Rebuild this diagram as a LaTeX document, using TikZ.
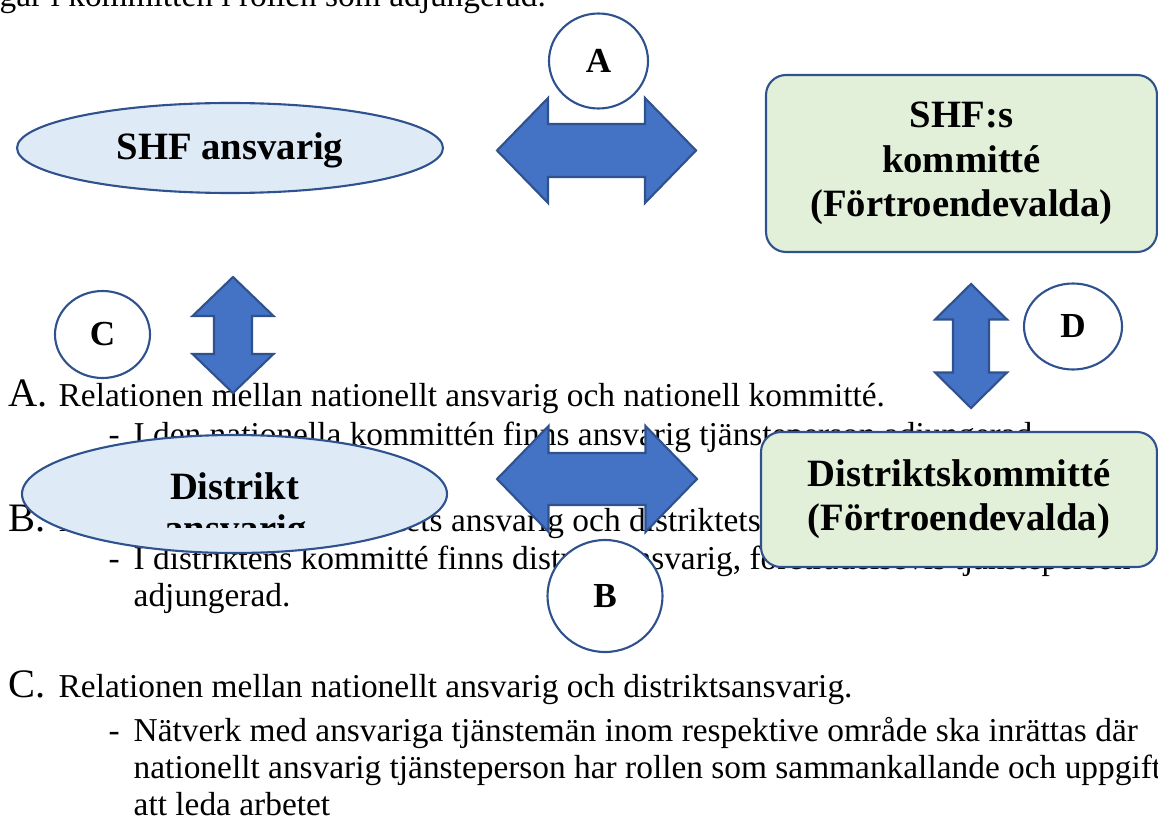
\documentclass[tikz,border=0pt]{standalone}
\usepackage{fontspec}
\setmainfont{Liberation Serif}
\usetikzlibrary{shapes.geometric}

\definecolor{shfblue}{HTML}{4472C4}
\definecolor{shfline}{HTML}{2F528F}
\definecolor{shflight}{HTML}{DEEBF7}
\definecolor{shfgreen}{HTML}{E2F0D9}

\tikzset{
  txt/.style={anchor=base west, inner sep=0pt, font=\fontsize{9.5}{11}\selectfont},
  bigletter/.style={anchor=base west, inner sep=0pt, font=\fontsize{11.5}{13}\selectfont},
  oval/.style={ellipse, draw=shfline, fill=shflight, line width=0.6pt, inner sep=0pt},
  ovaltext/.style={anchor=base, inner sep=0pt, font=\bfseries\fontsize{11}{13}\selectfont},
  box/.style={rectangle, rounded corners=0.2cm, draw=shfline, fill=shfgreen, line width=0.6pt,
    inner sep=0pt, align=center, font=\bfseries\fontsize{11}{12.6}\selectfont},
  tag/.style={ellipse, draw=shfline, fill=white, line width=0.6pt, inner sep=0pt,
    font=\bfseries\fontsize{10}{12}\selectfont},
  bigarrow/.style={draw=shfline, fill=shfblue, line width=0.6pt, line join=miter}
}

\begin{document}
\begin{tikzpicture}
\useasboundingbox (0,0) rectangle (11.58,-8.20);

% text behind the shapes
\node (l0) at (-0.01,-0.07) [txt] {gar i kommittén i rollen som adjungerad.};

\node (la) at (0.08,-4.06) [bigletter] {A.};
\node (lat) at (0.58,-4.06) [txt] {Relationen mellan nationellt ansvarig och nationell kommitté.};
\node (lad) at (1.08,-4.45) [txt] {-};
\node (las) at (1.33,-4.45) [txt] {I den nationella kommittén finns ansvarig tjänsteperson adjungerad.};

\node (lb) at (0.08,-5.31) [bigletter] {B.};
\node (lbt) at (0.58,-5.31) [txt] {Relationen mellan distriktets ansvarig och distriktets kommitté.};
\node (lbd) at (1.08,-5.69) [txt] {-};
\node (lbs) at (1.33,-5.69) [txt] {I distriktens kommitté finns distriktsansvarig, företrädelsevis tjänsteperson};
\node (lbs2) at (1.33,-6.06) [txt] {adjungerad.};

\node (lc) at (0.08,-6.97) [bigletter] {C.};
\node (lct) at (0.58,-6.97) [txt] {Relationen mellan nationellt ansvarig och distriktsansvarig.};
\node (lcd) at (1.08,-7.41) [txt] {-};
\node (lcs) at (1.33,-7.41) [txt] {Nätverk med ansvariga tjänstemän inom respektive område ska inrättas där};
\node (lcs2) at (1.33,-7.78) [txt] {nationellt ansvarig tjänsteperson har rollen som sammankallande och uppgift};
\node (lcs3) at (1.33,-8.15) [txt] {att leda arbetet};

% top row
\node (shf) at (2.30,-1.48) [oval, minimum width=4.26cm, minimum height=0.90cm] {};
\node (shftext) at (2.30,-1.60) [ovaltext] {SHF ansvarig};
\node (komm) at (9.615,-1.635) [box, minimum width=3.91cm, minimum height=1.77cm] {SHF:s\\kommitté\\(Förtroendevalda)};

\begin{scope}[shift={(5.965,-1.505)}]
\draw[bigarrow] (-0.995,0) -- (-0.485,0.525) -- (-0.485,0.265) -- (0.485,0.265) -- (0.485,0.525)
  -- (0.995,0) -- (0.485,-0.525) -- (0.485,-0.265) -- (-0.485,-0.265) -- (-0.485,-0.525) -- cycle;
\end{scope}
\node (a) at (5.985,-0.61) [tag, minimum width=0.99cm, minimum height=0.95cm] {A};

% vertical arrows
\begin{scope}[shift={(2.33,-3.35)}]
\draw[bigarrow] (0,0.58) -- (0.405,0.19) -- (0.19,0.19) -- (0.19,-0.19) -- (0.405,-0.19)
  -- (0,-0.58) -- (-0.405,-0.19) -- (-0.19,-0.19) -- (-0.19,0.19) -- (-0.405,0.19) -- cycle;
\end{scope}
\node (c) at (1.025,-3.345) [tag, minimum width=0.95cm, minimum height=0.87cm] {C};

\begin{scope}[shift={(9.71,-3.46)}]
\draw[bigarrow] (0,0.62) -- (0.36,0.265) -- (0.18,0.265) -- (0.18,-0.265) -- (0.36,-0.265)
  -- (0,-0.62) -- (-0.36,-0.265) -- (-0.18,-0.265) -- (-0.18,0.265) -- (-0.36,0.265) -- cycle;
\end{scope}
\node (d) at (10.73,-3.265) [tag, minimum width=0.98cm, minimum height=0.86cm] {D};

% bottom row
\node (dist) at (2.345,-4.94) [oval, minimum width=4.25cm, minimum height=1.18cm] {};
\node (disttext) at (2.345,-4.99) [ovaltext] {Distrikt};
\begin{scope}
\clip (0.5,-5.10) rectangle (4.2,-5.27);
\node (distansv) at (2.355,-5.41) [ovaltext] {ansvarig};
\end{scope}
\node (dkomm) at (9.59,-4.995) [box, minimum width=3.96cm, minimum height=1.35cm] {Distriktskommitté\\(Förtroendevalda)};

\begin{scope}[shift={(5.97,-4.79)}]
\draw[bigarrow] (-1.0,0) -- (-0.485,0.53) -- (-0.485,0.26) -- (0.485,0.26) -- (0.485,0.53)
  -- (1.0,0) -- (0.485,-0.53) -- (0.485,-0.26) -- (-0.485,-0.26) -- (-0.485,-0.53) -- cycle;
\end{scope}
\node (b) at (6.05,-5.96) [tag, minimum width=1.15cm, minimum height=1.12cm] {B};

\end{tikzpicture}
\end{document}
